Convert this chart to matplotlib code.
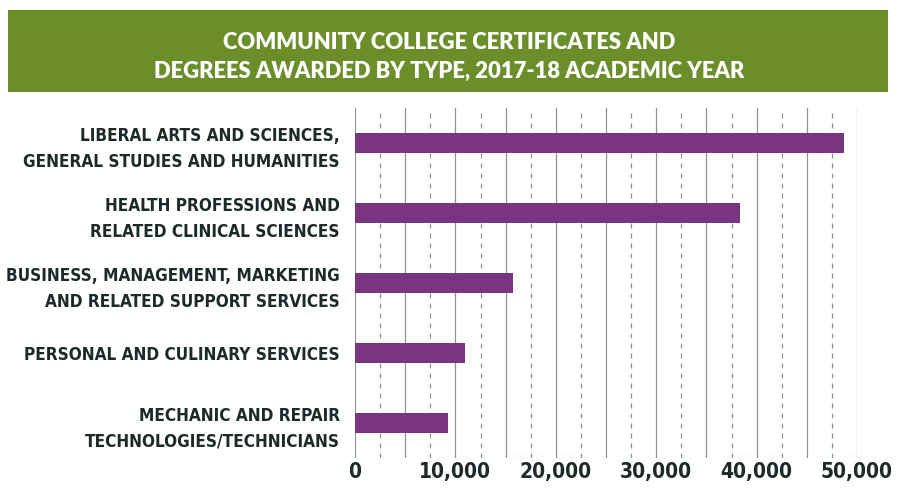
import matplotlib
matplotlib.use("Agg")
from matplotlib import pyplot as plt
from matplotlib import font_manager
from matplotlib.font_manager import FontProperties
from matplotlib.patches import Rectangle

# data
categories = [
    "LIBERAL ARTS AND SCIENCES,\nGENERAL STUDIES AND HUMANITIES",
    "HEALTH PROFESSIONS AND\nRELATED CLINICAL SCIENCES",
    "BUSINESS, MANAGEMENT, MARKETING\nAND RELATED SUPPORT SERVICES",
    "PERSONAL AND CULINARY SERVICES",
    "MECHANIC AND REPAIR\nTECHNOLOGIES/TECHNICIANS",
]
awarded = [48700, 38300, 15700, 11000, 9300]
x_ticks = [0, 10000, 20000, 30000, 40000, 50000]
x_tick_labels = ["0", "10,000", "20,000", "30,000", "40,000", "50,000"]
title_lines = "COMMUNITY COLLEGE CERTIFICATES AND\nDEGREES AWARDED BY TYPE, 2017-18 ACADEMIC YEAR"

GREEN = "#6b8e2b"
PURPLE = "#7a3580"
GRID = "#8a9492"
TEXT = "#1d2a2a"


def wnum(w):
    if isinstance(w, int):
        return w
    return font_manager.weight_dict.get(w, 400)


# the reference labels use a bold condensed face, find one if there is one
cands = []
for f in font_manager.fontManager.ttflist:
    narrow = ("Narrow" in f.name or "Condensed" in f.name
              or f.stretch in ("condensed", "semi-condensed"))
    if narrow and f.style == "normal" and wnum(f.weight) >= 600:
        cands.append(f)

def rank(f):
    pref = ["Liberation Sans Narrow", "DejaVu Sans", "Roboto Condensed"]
    p = pref.index(f.name) if f.name in pref else len(pref)
    return (p, abs(wnum(f.weight) - 700))

cands.sort(key=rank)
if cands:
    label_fp = FontProperties(fname=cands[0].fname)
else:
    label_fp = FontProperties(family="DejaVu Sans", weight="bold")

fig = plt.figure(figsize=(8.98, 4.98), dpi=100)

# green title banner
fig.patches.append(Rectangle((8 / 898, 1 - 92 / 498), 880 / 898, 82 / 498,
                             transform=fig.transFigure, facecolor=GREEN,
                             edgecolor="none", zorder=0))
fig.text(0.5, 1 - 57 / 498, title_lines, ha="center", va="center",
         color="white", fontsize=15.8, fontweight="heavy", family="Lato",
         linespacing=1.5)

ax = fig.add_axes([355 / 898, 1 - 458 / 498, 502 / 898, 350 / 498])

# solid lines every 5000, dashed halfway between
for v in range(0, 50001, 5000):
    ax.axvline(v, color=GRID, lw=0.9, zorder=1)
for v in range(2500, 50000, 5000):
    ax.axvline(v, color=GRID, lw=0.9, ls=(0, (4, 4)), zorder=1)

ypos = list(range(len(categories)))
ax.barh(ypos, awarded, height=0.29, color=PURPLE, zorder=2)

ax.set_xlim(0, 50000)
ax.set_ylim(len(categories) - 0.5, -0.5)
ax.set_yticks(ypos)
ax.set_yticklabels(categories, fontproperties=label_fp, fontsize=15,
                   color=TEXT, linespacing=1.55)
ax.set_xticks(x_ticks)
ax.set_xticklabels(x_tick_labels, fontproperties=label_fp, fontsize=15,
                   color=TEXT)
ax.tick_params(axis="y", length=0, pad=11)
ax.tick_params(axis="x", length=0, pad=3)
for s in ax.spines.values():
    s.set_visible(False)

# fit the widest category label into the space left of the axes
fig.canvas.draw()
r = fig.canvas.get_renderer()
widest = max(t.get_window_extent(r).width for t in ax.get_yticklabels())
size = min(17.5, 15 * 334 / widest)
for t in ax.get_yticklabels():
    t.set_fontsize(size)

fig.savefig("out.png", dpi=100)
